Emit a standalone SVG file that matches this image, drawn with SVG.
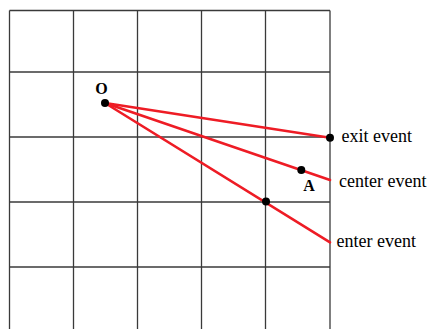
<svg xmlns="http://www.w3.org/2000/svg" width="429" height="329" viewBox="0 0 429 329">
<style>
.grid line{stroke:#3a3a3a;stroke-width:1.3}
.ray{stroke:#ee1c25;stroke-width:2.6;stroke-linecap:round}
.dot{fill:#000}
.lbl{font-family:"Liberation Serif",serif;font-size:18px;fill:#000}
.bold{font-family:"Liberation Serif",serif;font-size:16px;font-weight:bold;fill:#000}
</style>
<rect width="429" height="329" fill="#fff"/>
<g class="grid" id="grid">
<line x1="9.5" y1="10.5" x2="330" y2="10.5"/>
<line x1="9.5" y1="72" x2="330" y2="72"/>
<line x1="9.5" y1="137" x2="330" y2="137"/>
<line x1="9.5" y1="202" x2="330" y2="202"/>
<line x1="9.5" y1="267" x2="330" y2="267"/>
<line x1="9.5" y1="10.5" x2="9.5" y2="329"/>
<line x1="73.5" y1="10.5" x2="73.5" y2="329"/>
<line x1="137.5" y1="10.5" x2="137.5" y2="329"/>
<line x1="201.5" y1="10.5" x2="201.5" y2="329"/>
<line x1="265.5" y1="10.5" x2="265.5" y2="329"/>
<line x1="330" y1="10.5" x2="330" y2="329"/>
</g>
<g id="connectors">
<line class="ray" x1="105" y1="103" x2="330" y2="137.7"/>
<line class="ray" x1="105" y1="103" x2="330" y2="180"/>
<line class="ray" x1="105" y1="103" x2="330" y2="242.3"/>
</g>
<g id="O">
<circle class="dot" cx="105" cy="103" r="4"/>
<text class="bold" x="101.5" y="94" text-anchor="middle">O</text>
</g>
<g id="exit">
<circle class="dot" cx="330" cy="137.7" r="4"/>
<text class="lbl" x="341.5" y="142">exit event</text>
</g>
<g id="A">
<circle class="dot" cx="301.3" cy="170" r="4"/>
<text class="bold" x="309" y="190.5" text-anchor="middle">A</text>
</g>
<g id="center">
<text class="lbl" x="339" y="186.5">center event</text>
</g>
<g id="enter">
<circle class="dot" cx="266" cy="201.5" r="4"/>
<text class="lbl" x="336.5" y="247">enter event</text>
</g>
</svg>
